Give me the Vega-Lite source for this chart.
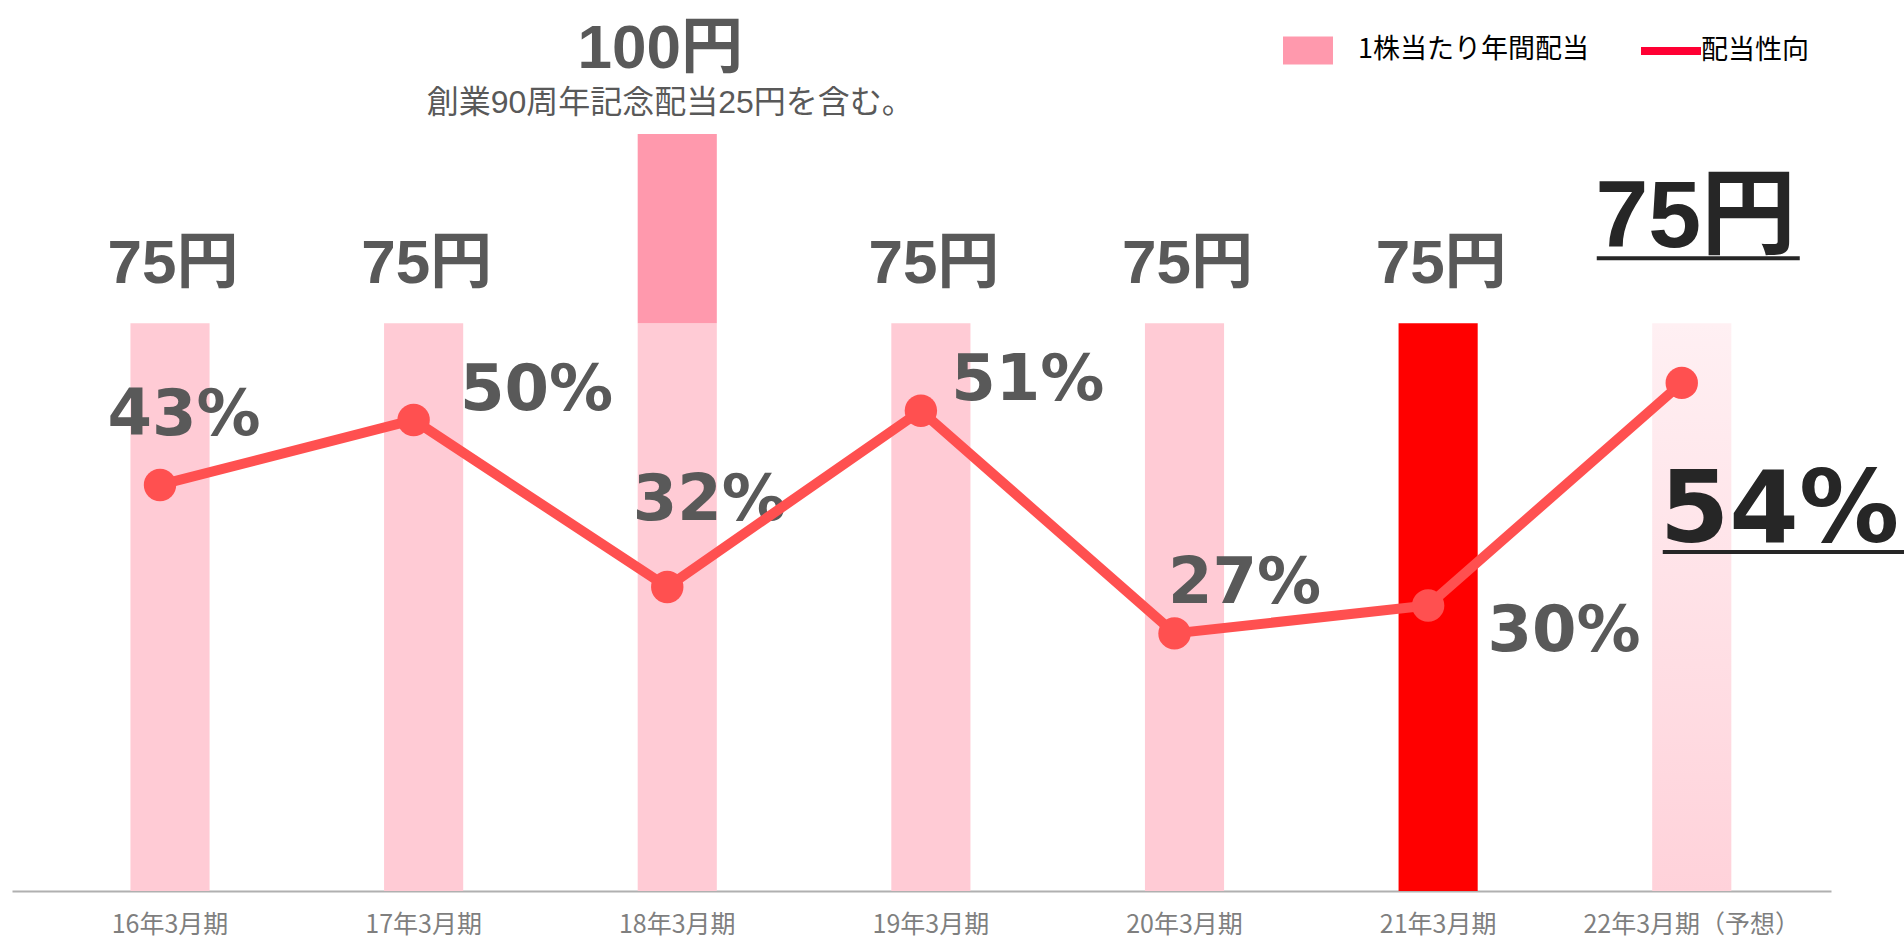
{
  "$schema": "https://vega.github.io/schema/vega-lite/v6.json",
  "width": 1819,
  "height": 757,
  "autosize": {"type": "none"},
  "padding": {"left": 12, "top": 134, "right": 73, "bottom": 49},
  "background": "white",
  "config": {
    "view": {"stroke": null},
    "axis": {"grid": false}
  },
  "data": {
    "values": [
      {"period": "16年3月期", "ordinary": 75, "total": 75, "ratio": 43, "yen": "75円", "pct": "43%"},
      {"period": "17年3月期", "ordinary": 75, "total": 75, "ratio": 50, "yen": "75円", "pct": "50%"},
      {"period": "18年3月期", "ordinary": 75, "total": 100, "ratio": 32, "yen": "100円", "pct": "32%", "note": "創業90周年記念配当25円を含む。"},
      {"period": "19年3月期", "ordinary": 75, "total": 75, "ratio": 51, "yen": "75円", "pct": "51%"},
      {"period": "20年3月期", "ordinary": 75, "total": 75, "ratio": 27, "yen": "75円", "pct": "27%"},
      {"period": "21年3月期", "ordinary": 75, "total": 75, "ratio": 30, "yen": "75円", "pct": "30%"},
      {"period": "22年3月期（予想）", "ordinary": 75, "total": 75, "ratio": 54, "yen": "75円", "pct": "54%"}
    ]
  },
  "encoding": {
    "x": {
      "field": "period", "type": "nominal", "sort": null,
      "scale": {"paddingInner": 0.688, "paddingOuter": 0.43, "align": 0.543},
      "axis": {
        "title": null, "labelAngle": 0, "ticks": false, "tickSize": 0,
        "domainColor": "#B0B0B0", "domainWidth": 2,
        "labelFont": "Noto Sans CJK JP", "labelFontSize": 25, "labelColor": "#7F7F7F",
        "labelPadding": 21, "labelLimit": 400
      }
    }
  },
  "layer": [
    {
      "layer": [
        {
          "transform": [{"filter": "datum.period !== '21年3月期' && datum.period !== '22年3月期（予想）'"}],
          "mark": {"type": "bar", "fill": "#FFCBD5"},
          "encoding": {"y": {"field": "ordinary", "type": "quantitative", "scale": {"domain": [0, 100], "nice": false}, "axis": null}}
        },
        {
          "transform": [{"filter": "datum.period === '21年3月期'"}],
          "mark": {"type": "bar", "fill": "#FF0000"},
          "encoding": {"y": {"field": "ordinary", "type": "quantitative", "scale": {"domain": [0, 100], "nice": false}, "axis": null}}
        },
        {
          "transform": [{"filter": "datum.period === '22年3月期（予想）'"}],
          "mark": {"type": "bar", "fill": {"gradient": "linear", "x1": 0, "y1": 0, "x2": 0, "y2": 1, "stops": [{"offset": 0, "color": "#FFF0F3"}, {"offset": 1, "color": "#FFD2DA"}]}},
          "encoding": {"y": {"field": "ordinary", "type": "quantitative", "scale": {"domain": [0, 100], "nice": false}, "axis": null}}
        },
        {
          "transform": [{"filter": "datum.total > datum.ordinary"}],
          "mark": {"type": "bar", "opacity": 1},
          "encoding": {
            "y": {"field": "total", "type": "quantitative", "scale": {"domain": [0, 100], "nice": false}, "axis": null},
            "y2": {"field": "ordinary"},
            "color": {
              "datum": "1株当たり年間配当",
              "scale": {"domain": ["1株当たり年間配当", "配当性向"], "range": ["#FF99AD", "#FF0033"]},
              "legend": {
                "orient": "none", "legendX": 1266, "legendY": -114, "direction": "horizontal",
                "title": null, "symbolSize": 3600, "labelFont": "Noto Sans CJK JP", "labelFontSize": 27,
                "labelColor": "#000000", "labelOffset": 20, "columnPadding": 32, "labelLimit": 400,
                "symbolStrokeWidth": 0, "padding": 0, "symbolOpacity": 1,
                "symbolType": {"expr": "datum.value === '配当性向' ? 'M-0.333,-0.13H1.667V0.13H-0.333Z' : 'M-0.833,-0.467H0.833V0.467H-0.833Z'"}
              }
            }
          }
        },
        {
          "transform": [{"filter": "datum.total === 75 && datum.period !== '22年3月期（予想）'"}],
          "mark": {"type": "text", "font": "Liberation Sans, Noto Sans CJK JP", "fontWeight": "bold", "fontSize": 62, "color": "#595959", "align": "center", "baseline": "alphabetic", "dx": 3, "dy": -40},
          "encoding": {"y": {"field": "total", "type": "quantitative", "scale": {"domain": [0, 100], "nice": false}, "axis": null}, "text": {"field": "yen"}}
        },
        {
          "transform": [{"filter": "datum.period === '18年3月期'"}],
          "mark": {"type": "text", "font": "Liberation Sans, Noto Sans CJK JP", "fontWeight": "bold", "fontSize": 62, "color": "#595959", "align": "center", "baseline": "alphabetic", "dx": -17, "dy": -66},
          "encoding": {"y": {"field": "total", "type": "quantitative", "scale": {"domain": [0, 100], "nice": false}, "axis": null}, "text": {"field": "yen"}}
        },
        {
          "transform": [{"filter": "datum.period === '18年3月期'"}],
          "mark": {"type": "text", "font": "Liberation Sans, Noto Sans CJK JP", "fontSize": 32, "color": "#595959", "align": "center", "baseline": "alphabetic", "dx": -7, "dy": -21},
          "encoding": {"y": {"field": "total", "type": "quantitative", "scale": {"domain": [0, 100], "nice": false}, "axis": null}, "text": {"field": "note"}}
        },
        {
          "transform": [{"filter": "datum.period === '22年3月期（予想）'"}],
          "mark": {"type": "text", "font": "Liberation Sans, Noto Sans CJK JP", "fontWeight": "bold", "fontSize": 95, "color": "#262626", "align": "center", "baseline": "alphabetic", "dx": 4, "dy": -76},
          "encoding": {"y": {"field": "total", "type": "quantitative", "scale": {"domain": [0, 100], "nice": false}, "axis": null}, "text": {"field": "yen"}}
        },
        {
          "transform": [{"filter": "datum.period === '22年3月期（予想）'"}],
          "mark": {"type": "tick", "orient": "horizontal", "size": 203, "thickness": 4, "color": "#262626", "opacity": 1, "xOffset": 6.5, "yOffset": -65},
          "encoding": {"y": {"field": "total", "type": "quantitative", "scale": {"domain": [0, 100], "nice": false}, "axis": null}}
        }
      ]
    },
    {
      "layer": [
        {
          "transform": [{"filter": "datum.period === '16年3月期'"}],
          "mark": {"type": "text", "font": "DejaVu Sans", "fontWeight": "bold", "fontSize": 64, "color": "#595959", "align": "center", "baseline": "alphabetic", "dx": 14, "dy": -50},
          "encoding": {"y": {"field": "ratio", "type": "quantitative", "scale": {"domain": [-0.77, 80.83], "nice": false, "zero": false}, "axis": null}, "text": {"field": "pct"}}
        },
        {
          "transform": [{"filter": "datum.period === '17年3月期'"}],
          "mark": {"type": "text", "font": "DejaVu Sans", "fontWeight": "bold", "fontSize": 64, "color": "#595959", "align": "center", "baseline": "alphabetic", "dx": 113, "dy": -10},
          "encoding": {"y": {"field": "ratio", "type": "quantitative", "scale": {"domain": [-0.77, 80.83], "nice": false, "zero": false}, "axis": null}, "text": {"field": "pct"}}
        },
        {
          "transform": [{"filter": "datum.period === '18年3月期'"}],
          "mark": {"type": "text", "font": "DejaVu Sans", "fontWeight": "bold", "fontSize": 64, "color": "#595959", "align": "center", "baseline": "alphabetic", "dx": 32, "dy": -67},
          "encoding": {"y": {"field": "ratio", "type": "quantitative", "scale": {"domain": [-0.77, 80.83], "nice": false, "zero": false}, "axis": null}, "text": {"field": "pct"}}
        },
        {
          "transform": [{"filter": "datum.period === '19年3月期'"}],
          "mark": {"type": "text", "font": "DejaVu Sans", "fontWeight": "bold", "fontSize": 64, "color": "#595959", "align": "center", "baseline": "alphabetic", "dx": 97, "dy": -11},
          "encoding": {"y": {"field": "ratio", "type": "quantitative", "scale": {"domain": [-0.77, 80.83], "nice": false, "zero": false}, "axis": null}, "text": {"field": "pct"}}
        },
        {
          "transform": [{"filter": "datum.period === '20年3月期'"}],
          "mark": {"type": "text", "font": "DejaVu Sans", "fontWeight": "bold", "fontSize": 64, "color": "#595959", "align": "center", "baseline": "alphabetic", "dx": 60, "dy": -30},
          "encoding": {"y": {"field": "ratio", "type": "quantitative", "scale": {"domain": [-0.77, 80.83], "nice": false, "zero": false}, "axis": null}, "text": {"field": "pct"}}
        },
        {
          "transform": [{"filter": "datum.period === '21年3月期'"}],
          "mark": {"type": "text", "font": "DejaVu Sans", "fontWeight": "bold", "fontSize": 64, "color": "#595959", "align": "center", "baseline": "alphabetic", "dx": 126, "dy": 45},
          "encoding": {"y": {"field": "ratio", "type": "quantitative", "scale": {"domain": [-0.77, 80.83], "nice": false, "zero": false}, "axis": null}, "text": {"field": "pct"}}
        },
        {
          "transform": [{"filter": "datum.period === '22年3月期（予想）'"}],
          "mark": {"type": "text", "font": "DejaVu Sans", "fontWeight": "bold", "fontSize": 100, "color": "#262626", "align": "left", "baseline": "alphabetic", "dx": -32, "dy": 159},
          "encoding": {"y": {"field": "ratio", "type": "quantitative", "scale": {"domain": [-0.77, 80.83], "nice": false, "zero": false}, "axis": null}, "text": {"field": "pct"}}
        },
        {
          "transform": [{"filter": "datum.period === '22年3月期（予想）'"}],
          "mark": {"type": "tick", "orient": "horizontal", "size": 247, "thickness": 4, "color": "#262626", "opacity": 1, "xOffset": 94.5, "yOffset": 169},
          "encoding": {"y": {"field": "ratio", "type": "quantitative", "scale": {"domain": [-0.77, 80.83], "nice": false, "zero": false}, "axis": null}}
        },
        {
          "transform": [{"filter": "datum.ratio < 0"}],
          "mark": {"type": "line", "strokeWidth": 8},
          "encoding": {
            "y": {"field": "ratio", "type": "quantitative", "scale": {"domain": [-0.77, 80.83], "nice": false, "zero": false}, "axis": null},
            "color": {"datum": "配当性向"}
          }
        },
        {
          "mark": {"type": "line", "strokeWidth": 10, "xOffset": -10, "color": "#FF5050"},
          "encoding": {
            "y": {"field": "ratio", "type": "quantitative", "scale": {"domain": [-0.77, 80.83], "nice": false, "zero": false}, "axis": null}
          }
        },
        {
          "mark": {"type": "circle", "size": 1050, "opacity": 1, "xOffset": -10, "color": "#FF5050"},
          "encoding": {
            "y": {"field": "ratio", "type": "quantitative", "scale": {"domain": [-0.77, 80.83], "nice": false, "zero": false}, "axis": null}
          }
        }
      ]
    }
  ],
  "resolve": {"scale": {"y": "independent"}}
}
